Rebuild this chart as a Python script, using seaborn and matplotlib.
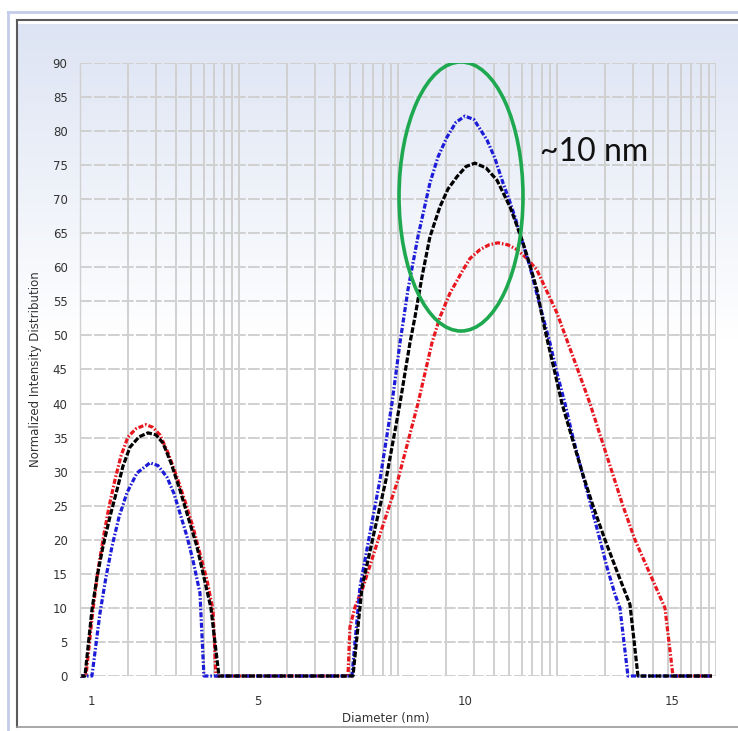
import numpy as np
import pandas as pd
import matplotlib
matplotlib.use("Agg")
import matplotlib.pyplot as plt
from matplotlib.patches import Ellipse
import seaborn as sns

# Diameter (nm) and normalized intensity
red_d = [0.72, 0.863, 1.032, 1.153, 1.274, 1.418, 1.563, 1.708, 1.877, 2.069, 2.311, 2.480,
         2.648, 2.841, 3.059, 3.251, 3.444, 3.613, 3.782, 3.927, 3.999,
         7.183, 7.231, 7.352, 7.545, 7.955, 8.389, 8.871, 9.209, 9.402, 9.643, 9.957, 10.126,
         10.367, 10.584, 10.801, 11.042, 11.259, 11.501, 11.742, 12.224, 12.489, 12.754,
         13.020, 13.285, 13.550, 13.815, 14.105, 14.467, 14.829, 15.022, 15.963]
red_v = [0, 0, 9.7, 15.5, 20, 24.8, 28.8, 32.3, 35.1, 36.3, 36.9, 36.5,
         35.4, 32.8, 29.2, 25.7, 21.9, 18.0, 14.1, 9.7, 0,
         0, 7.2, 10.1, 13, 20.8, 28.8, 40, 48.9, 52.7, 56.2, 59.6, 61.3,
         62.6, 63.3, 63.6, 63.3, 62.6, 61.3, 59.6, 53.3, 48.9, 44.5,
         40, 35, 30, 25, 20, 15, 10, 0, 0]

blue_d = [0.72, 1.008, 1.201, 1.346, 1.491, 1.659, 1.852, 2.094, 2.407, 2.600, 2.817, 2.986,
          3.131, 3.300, 3.444, 3.613, 3.709,
          7.279, 7.472, 7.714, 7.955, 8.244, 8.437, 8.630, 8.871, 9.161, 9.354, 9.570, 9.788,
          10.005, 10.222, 10.536, 10.728, 10.922, 11.066, 11.211, 11.380, 11.573, 11.717,
          11.887, 12.055, 12.224, 12.417, 12.610, 12.827, 13.044, 13.261, 13.430, 13.623,
          13.743, 13.936, 15.963]
blue_v = [0, 0, 9.2, 14.5, 19, 23.3, 26.9, 29.8, 31.3, 30.9, 29.2, 26.8,
          23.9, 20.5, 17, 12.2, 0,
          0, 13, 21, 28.8, 40, 48.9, 56.7, 64.5, 72.4, 76.2, 79.1, 81.3,
          82.2, 81.7, 78.7, 76.0, 72.4, 70.0, 67.4, 63.9, 60.1, 56.6,
          52.7, 48.9, 44.5, 40, 35, 30, 25, 20, 16, 12,
          10, 0, 0]

black_d = [0.72, 0.840, 1.008, 1.129, 1.274, 1.443, 1.611, 1.756, 1.925, 2.142, 2.359, 2.552,
           2.721, 2.914, 3.131, 3.324, 3.541, 3.709, 3.878, 4.071,
           7.304, 7.521, 7.811, 8.100, 8.437, 8.678, 8.799, 8.968, 9.161, 9.402, 9.595, 9.812,
           10.030, 10.246, 10.512, 10.777, 10.922, 11.090, 11.235, 11.404, 11.573, 11.742,
           11.862, 12.007, 12.176, 12.345, 12.586, 12.827, 13.092, 13.382, 13.695, 13.985,
           14.178, 15.963]
black_v = [0, 0, 9.7, 14.5, 19, 23.4, 27.3, 30.8, 33.6, 35.1, 35.7, 35.4,
           34.2, 31.3, 27.3, 23.4, 19, 14.5, 10, 0,
           0, 13, 21, 28.8, 40, 48.9, 52.7, 58.6, 64.5, 68.9, 71.5, 73.3,
           74.8, 75.3, 74.6, 72.8, 71.0, 68.9, 66.5, 63.6, 60.3, 56.7,
           52.9, 48.9, 44.5, 40, 35, 30, 25, 20, 15, 10.5,
           0, 0]

x_ticks = [1, 5, 10, 15]
x_labels = ["1", "5", "10", "15"]
y_ticks = list(range(0, 91, 5))

note_text = "~10 nm"

W, H = 738, 731
fig = plt.figure(figsize=(W / 100, H / 100), dpi=100)

# window-like background with a soft blue gradient
bg = fig.add_axes([0, 0, 1, 1], zorder=0)
bg.set_xlim(0, W)
bg.set_ylim(H, 0)
bg.axis("off")
t = np.clip(np.linspace(0, 1, 400) / 0.45, 0, 1)[:, None]
top = np.array([0.865, 0.893, 0.953])
grad = top * (1 - t[..., None]) + np.ones(3) * t[..., None]
grad = np.repeat(grad, 2, axis=1)
bg.imshow(grad, extent=[18, W, 727, 24], aspect="auto", interpolation="bilinear")
bg.plot([8, W], [12, 12], color="#c3cce9", lw=2.0)
bg.plot([8, 8], [12, 731], color="#c3cce9", lw=2.0)
bg.plot([17, W], [20, 20], color="#5a5a5a", lw=1.5)
bg.plot([17, 17], [20, 727], color="#5a5a5a", lw=1.5)
bg.plot([17, W], [727, 727], color="#9a9a9a", lw=1.2)

sns.set_style("white")
ax = fig.add_axes([80 / W, 55 / H, 636 / W, 613 / H], zorder=1)
ax.set_facecolor("none")

xmin, xmax = 0.72, 16.06
dec = (xmax - xmin) / 4
grid_x = [xmin + dec * (k + np.log10(m)) for k in range(4) for m in range(2, 11)]

ax.set_xlim(xmin, xmax)
ax.set_ylim(0, 90)
ax.set_xticks(x_ticks)
ax.set_xticklabels(x_labels)
ax.set_xticks(grid_x, minor=True)
ax.set_yticks(y_ticks)
ax.set_yticks(range(0, 91), minor=True)

gc = "#d0d0d0"
ax.grid(which="minor", axis="x", color=gc, lw=1.4, ls="-")
ax.grid(which="major", axis="x", visible=False)
ax.grid(which="major", axis="y", color=gc, lw=1.4, ls=(0, (6, 1.2)))
ax.tick_params(axis="x", which="major", length=0, pad=14, labelsize=8.5, labelcolor="#333333")
ax.tick_params(axis="x", which="minor", length=5, color=gc, width=1.2)
ax.tick_params(axis="y", which="major", length=5, color=gc, width=1.4, pad=4,
               labelsize=8.5, labelcolor="#333333")
ax.tick_params(axis="y", which="minor", length=2, color=gc, width=0.8)
for s in ["top", "right", "bottom"]:
    ax.spines[s].set_visible(False)
ax.spines["left"].set_color(gc)
ax.spines["left"].set_linewidth(1.0)

series = [
    (red_d, red_v, "#e8161e", (0, (1.6, 0.6, 0.5, 0.6))),
    (blue_d, blue_v, "#1c1cd8", (0, (1.6, 0.6, 0.5, 0.6))),
    (black_d, black_v, "#000000", (0, (1.8, 0.6))),
]
for d, v, c, ls in series:
    df = pd.DataFrame({"d": d, "v": v})
    sns.lineplot(data=df, x="d", y="v", color=c, lw=2.3, linestyle=ls,
                 estimator=None, sort=False, ax=ax, clip_on=False)

ax.add_patch(Ellipse((9.91, 70.4), 2.99, 39.5, fill=False, edgecolor="#1ea84f", lw=2.6, zorder=5))
ax.text(11.81, 76.9, note_text, fontsize=23, family="Lato", color="#111111",
        ha="left", va="center")

ax.set_xlabel("Diameter (nm)", fontsize=8.5, color="#333333")
ax.set_ylabel("Normalized Intensity Distribution", fontsize=8.5, color="#333333")
ax.xaxis.set_label_coords(0.48, -0.059)
ax.yaxis.set_label_coords(-0.06, 0.5)

fig.savefig("out.png", dpi=100)
